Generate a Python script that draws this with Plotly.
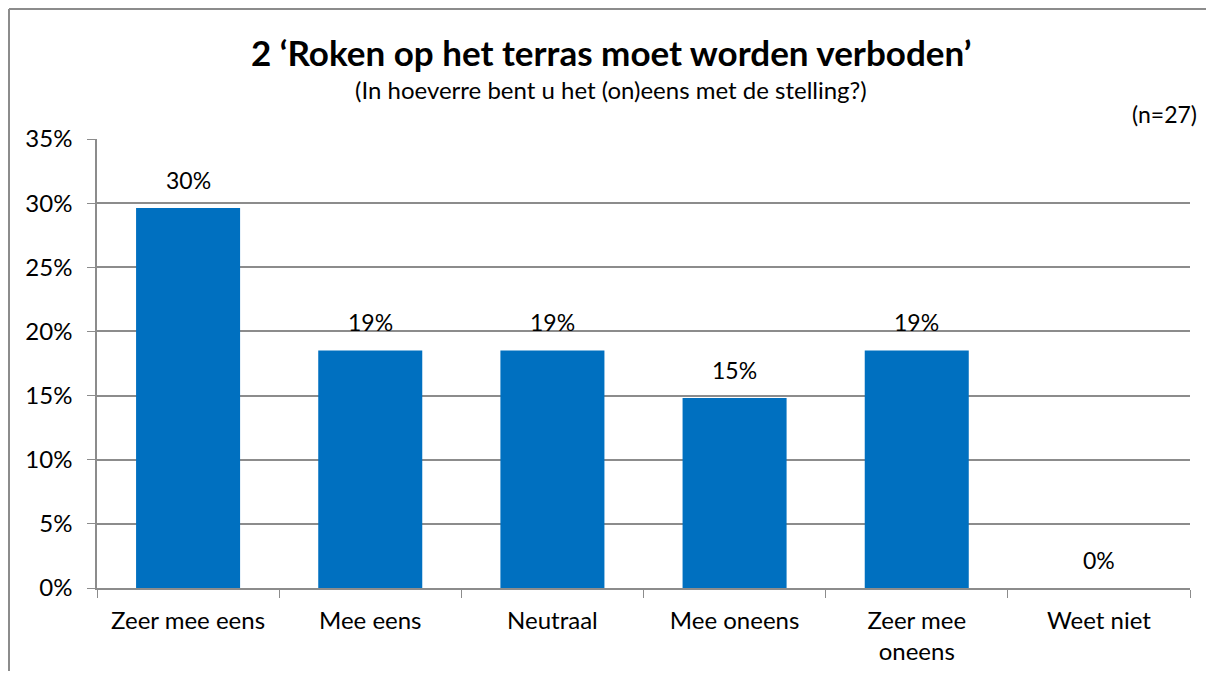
import plotly.graph_objects as go

categories = ["Zeer mee eens", "Mee eens", "Neutraal", "Mee oneens", "Zeer mee<br>oneens", "Weet niet"]
values = [29.63, 18.52, 18.52, 14.81, 18.52, 0.0]
labels = ["30%", "19%", "19%", "15%", "19%", "0%"]
y_ticks = [0, 5, 10, 15, 20, 25, 30, 35]
y_tick_labels = ["0%", "5%", "10%", "15%", "20%", "25%", "30%", "35%"]

FONT = "Lato"
GRID = "#8c8c8c"
FS = 23
TFS = 24

fig = go.Figure()
fig.add_trace(go.Bar(
    x=categories, y=values,
    marker=dict(color="#0070C0", line=dict(width=0)),
    width=0.571, cliponaxis=False,
))

OFF = 8  # page body margin
W, H = 1214 - 2 * OFF, 679 - 2 * OFF
L, R, T, B = 97 - OFF, 24 - OFF, 139 - OFF, 91 - OFF
pw, ph = W - L - R, H - T - B

def px_x(x):
    return (x - OFF - L) / pw

def px_y(y):
    return (H + OFF - B - y) / ph

value_annotations = [
    dict(x=c, y=v, xref="x", yref="y", text=t, showarrow=False,
         xanchor="center", yanchor="bottom", yshift=12,
         font=dict(family=FONT, size=FS, color="black"))
    for c, v, t in zip(categories, values, labels)
]

fig.update_layout(
    width=W, height=H,
    margin=dict(l=L, r=R, t=T, b=B, autoexpand=False),
    paper_bgcolor="white", plot_bgcolor="white",
    showlegend=False,
    font=dict(family=FONT, size=FS, color="black"),
    xaxis=dict(
        type="category", tickson="boundaries", ticks="outside", ticklen=8,
        tickcolor=GRID, showline=True, linecolor=GRID, linewidth=1.5,
        showgrid=False, tickfont=dict(family=FONT, size=TFS),
        ticklabelstandoff=10, automargin=False,
    ),
    yaxis=dict(
        range=[0, 35], tickvals=y_ticks, ticktext=y_tick_labels,
        ticks="outside", ticklen=8, tickcolor=GRID,
        showline=True, linecolor=GRID, linewidth=1.5,
        showgrid=True, gridcolor=GRID, gridwidth=1.5,
        tickfont=dict(family=FONT, size=TFS), zeroline=False,
        ticklabelstandoff=10, automargin=False,
    ),
    annotations=value_annotations + [
        dict(text="<b>2 ‘Roken op het terras moet worden verboden’</b>",
             xref="paper", yref="paper", x=px_x(611), y=px_y(52),
             xanchor="center", yanchor="middle", showarrow=False,
             font=dict(family=FONT, size=35, color="black")),
        dict(text="(In hoeverre bent u het (on)eens met de stelling?)",
             xref="paper", yref="paper", x=px_x(611), y=px_y(90),
             xanchor="center", yanchor="middle", showarrow=False,
             font=dict(family=FONT, size=24, color="black")),
        dict(text="(n=27)",
             xref="paper", yref="paper", x=px_x(1199), y=px_y(114),
             xanchor="right", yanchor="middle", showarrow=False,
             font=dict(family=FONT, size=23, color="black")),
    ],
    shapes=[
        dict(type="line", xref="paper", yref="paper",
             x0=px_x(9), x1=px_x(1214), y0=px_y(9), y1=px_y(9),
             line=dict(color="#8c8c8c", width=2), layer="below"),
        dict(type="line", xref="paper", yref="paper",
             x0=px_x(9), x1=px_x(9), y0=px_y(9), y1=px_y(679),
             line=dict(color="#8c8c8c", width=2), layer="below"),
    ],
)

fig.write_html("out.html", config={"displayModeBar": False})
